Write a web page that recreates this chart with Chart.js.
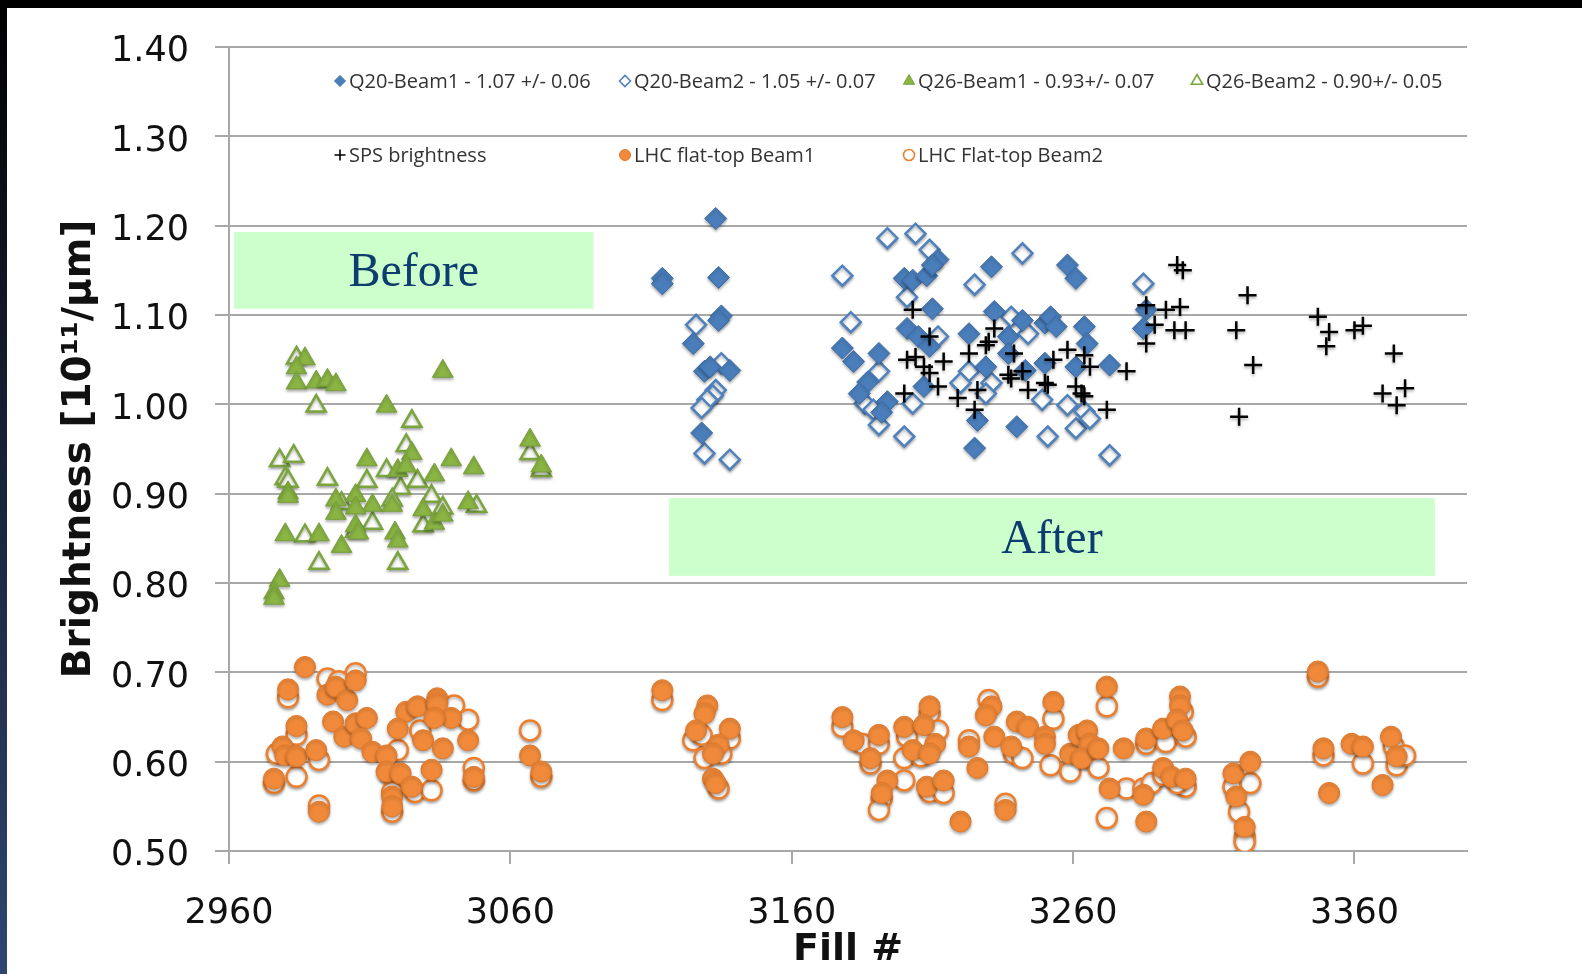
<!DOCTYPE html>
<html>
<head>
<meta charset="utf-8">
<script src="https://cdn.jsdelivr.net/npm/chart.js@4.4.1/dist/chart.umd.min.js"></script>
<style>
  body { margin: 0; background: #fff; overflow: hidden; }
  #wrap { position: absolute; left: 0; top: 0; width: 1582px; height: 974px; }
  #topBar { position: absolute; left: 0; top: 0; width: 1582px; height: 8px; background: #000; }
  #leftBar { position: absolute; left: 0; top: 0; width: 7px; height: 974px;
             background: linear-gradient(#000 0%, #121a2a 35%, #2f4670 100%); }
</style>
</head>
<body>
<div id="wrap"><canvas id="grafico"></canvas></div>
<div id="topBar"></div>
<div id="leftBar"></div>
<script>
// ejes
const xTicks = [2960, 3060, 3160, 3260, 3360];
const yTitle = 'Brightness [10\u00b9\u00b9/\u03bcm]';
const xTitle = 'Fill #';

// Q20 Beam1 (rombos llenos)
const q20b1Fill = [3133, 3114, 3114, 3134, 3135, 3134, 3125, 3129, 3131, 3138, 3128, 3178, 3182, 3191, 3187, 3184, 3194, 3192,
  3200, 3203, 3208, 3212, 3210, 3210, 3201, 3205, 3209, 3207, 3231, 3223, 3232, 3237, 3229, 3242, 3250, 3252, 3254, 3250,
  3258, 3261, 3264, 3265, 3261, 3273, 3226, 3240, 3225, 3243, 3237, 3286, 3285];
const q20b1Bright = [1.208, 1.141, 1.135, 1.142, 1.099, 1.094, 1.068, 1.037, 1.042, 1.038, 0.968, 1.063, 1.048, 1.057, 1.025, 1.012, 1.003, 0.991,
  1.141, 1.139, 1.144, 1.162, 1.156, 1.107, 1.085, 1.076, 1.065, 1.020, 1.154, 1.079, 1.104, 1.076, 1.042, 1.094, 1.091, 1.098, 1.087, 1.046,
  1.156, 1.141, 1.087, 1.068, 1.042, 1.044, 0.982, 0.975, 0.951, 1.038, 1.057, 1.106, 1.085];

// Q20 Beam2 (rombos vacios)
const q20b2Fill = [3126, 3135, 3133, 3132, 3130, 3128, 3129, 3138, 3178, 3181, 3194, 3204, 3209, 3201, 3191, 3186, 3189, 3191,
  3200, 3203, 3212, 3225, 3242, 3238, 3244, 3223, 3220, 3231, 3229, 3249, 3251, 3258, 3261, 3264, 3266, 3273, 3285];
const q20b2Bright = [1.089, 1.046, 1.016, 1.010, 1.005, 0.996, 0.945, 0.938, 1.144, 1.092, 1.186, 1.191, 1.173, 1.120, 1.037, 1.001, 0.994, 0.977,
  0.964, 1.001, 1.076, 1.134, 1.169, 1.098, 1.079, 1.037, 1.024, 1.024, 1.012, 1.005, 0.964, 0.999, 0.973, 0.992, 0.984, 0.943, 1.135];

// Q26 Beam1 (triangulos llenos)
const q26b1Fill = [2987, 2984, 2984, 2991, 2995, 2998, 3036, 3016, 3025, 2981, 2981, 3009, 3020, 3023, 3039, 3047, 3033, 3067, 3071,
  3005, 2998, 2998, 3011, 3018, 3005, 3029, 3033, 3036, 3045, 3005, 3006, 2980, 2992, 3000, 3019, 3020, 2978, 2976, 2976];
const q26b1Bright = [1.051, 1.041, 1.024, 1.025, 1.027, 1.022, 1.037, 0.998, 0.945, 0.901, 0.897, 0.938, 0.926, 0.931, 0.938, 0.929, 0.921, 0.960, 0.931,
  0.898, 0.893, 0.878, 0.887, 0.887, 0.884, 0.882, 0.867, 0.876, 0.890, 0.864, 0.856, 0.854, 0.854, 0.841, 0.856, 0.847, 0.803, 0.789, 0.783];

// Q26 Beam2 (triangulos vacios)
const q26b2Fill = [2984, 2991, 3025, 3023, 2978, 2983, 2980, 2981, 2995, 3016, 3027, 3009, 3021, 3032, 3036, 3029, 3048, 3067, 3071,
  3000, 3018, 3005, 3011, 2987, 2992, 3020];
const q26b2Bright = [1.052, 0.998, 0.981, 0.954, 0.937, 0.942, 0.917, 0.914, 0.916, 0.926, 0.914, 0.914, 0.906, 0.897, 0.884, 0.864, 0.886, 0.945, 0.926,
  0.889, 0.893, 0.858, 0.867, 0.853, 0.822, 0.822];

// SPS (cruces)
const spsFill = [3203, 3209, 3201, 3204, 3207, 3209, 3214, 3212, 3200, 3223, 3232, 3230, 3229, 3239, 3237, 3238, 3242, 3244, 3219, 3226, 3225,
  3250, 3251, 3253, 3258, 3264, 3266, 3261, 3263, 3264, 3272, 3279, 3297, 3299, 3286, 3293, 3298, 3289, 3296, 3300, 3286,
  3322, 3318, 3324, 3319, 3347, 3351, 3350, 3360, 3363, 3374, 3370, 3378, 3375];
const spsBright = [1.106, 1.076, 1.050, 1.053, 1.042, 1.035, 1.048, 1.020, 1.012, 1.057, 1.085, 1.070, 1.066, 1.057, 1.033, 1.029, 1.037, 1.016, 1.007, 1.016, 0.994,
  1.024, 1.022, 1.050, 1.061, 1.055, 1.042, 1.020, 1.012, 1.009, 0.994, 1.037, 1.156, 1.150, 1.111, 1.106, 1.109, 1.089, 1.083, 1.083, 1.068,
  1.122, 1.083, 1.044, 0.986, 1.098, 1.081, 1.065, 1.083, 1.088, 1.057, 1.012, 1.018, 0.999];

// LHC flat-top Beam1 (circulos llenos)
const lhcb1Fill = [2987, 2981, 2995, 2998, 3002, 3005, 2984, 2997, 3001, 3005, 3009, 3007, 2979, 2980, 2984, 2991, 2976, 2992, 3011, 3016,
  3023, 3027, 3020, 3034, 3034, 3039, 3033, 3045, 3029, 3036, 3016, 3021, 3018, 3018, 3025, 3032, 3047, 3067, 3071,
  3114, 3130, 3129, 3126, 3138, 3134, 3132, 3132, 3133, 3178, 3182, 3191, 3188, 3200, 3209, 3207, 3211, 3203, 3209, 3223, 3226,
  3194, 3192, 3208, 3214, 3220, 3231, 3229, 3232, 3238, 3240, 3244, 3236, 3250, 3250, 3253, 3259, 3262, 3265, 3266, 3263, 3269,
  3272, 3273, 3285, 3286, 3278, 3286, 3292, 3292, 3298, 3298, 3297, 3299, 3295, 3300, 3317, 3323, 3318, 3321,
  3347, 3349, 3351, 3359, 3363, 3370, 3373, 3375];
const lhcb1Bright = [0.706, 0.681, 0.675, 0.684, 0.669, 0.691, 0.640, 0.645, 0.628, 0.643, 0.649, 0.626, 0.617, 0.607, 0.606, 0.613, 0.581, 0.544, 0.611, 0.607,
  0.656, 0.662, 0.637, 0.671, 0.665, 0.649, 0.649, 0.624, 0.624, 0.615, 0.589, 0.587, 0.561, 0.550, 0.572, 0.591, 0.583, 0.607, 0.589,
  0.680, 0.663, 0.654, 0.635, 0.637, 0.619, 0.609, 0.581, 0.576, 0.650, 0.624, 0.630, 0.604, 0.639, 0.662, 0.641, 0.620, 0.613, 0.609, 0.617, 0.593,
  0.579, 0.565, 0.572, 0.579, 0.533, 0.662, 0.652, 0.628, 0.617, 0.645, 0.639, 0.546, 0.628, 0.620, 0.667, 0.609, 0.630, 0.635, 0.620, 0.604, 0.615,
  0.684, 0.570, 0.563, 0.533, 0.615, 0.626, 0.637, 0.593, 0.673, 0.663, 0.647, 0.635, 0.583, 0.581, 0.587, 0.600, 0.561, 0.527,
  0.701, 0.615, 0.565, 0.620, 0.617, 0.574, 0.628, 0.606];

// LHC flat-top Beam2 (circulos vacios)
const lhcb2Fill = [2981, 3005, 2995, 2999, 2984, 2977, 2992, 2976, 2984, 2992, 3020, 3028, 3040, 3045, 3017, 3018, 3018, 3026, 3032, 3047, 3047, 3067, 3071,
  3114, 3125, 3128, 3138, 3129, 3135, 3134, 3178, 3185, 3191, 3188, 3201, 3209, 3212, 3200, 3206, 3223, 3192, 3191, 3200, 3209, 3214,
  3230, 3239, 3242, 3236, 3252, 3253, 3259, 3265, 3269, 3272, 3279, 3285, 3288, 3272, 3286, 3293, 3292, 3299, 3300, 3300, 3297,
  3317, 3323, 3319, 3321, 3321, 3347, 3349, 3363, 3374, 3375, 3378];
const lhcb2Bright = [0.672, 0.699, 0.693, 0.690, 0.630, 0.609, 0.602, 0.576, 0.583, 0.551, 0.613, 0.635, 0.663, 0.647, 0.587, 0.566, 0.544, 0.566, 0.568, 0.593, 0.579, 0.635, 0.583,
  0.669, 0.624, 0.630, 0.626, 0.604, 0.609, 0.570, 0.639, 0.620, 0.620, 0.598, 0.628, 0.654, 0.635, 0.604, 0.606, 0.624, 0.559, 0.546, 0.579, 0.566, 0.565,
  0.669, 0.609, 0.604, 0.553, 0.596, 0.648, 0.589, 0.604, 0.593, 0.662, 0.570, 0.570, 0.576, 0.537, 0.620, 0.622, 0.585, 0.656, 0.628, 0.572, 0.576,
  0.572, 0.576, 0.544, 0.516, 0.510, 0.695, 0.607, 0.598, 0.617, 0.596, 0.607];

// cuadros verdes "Before" / "After" (en unidades de los ejes)
const notes = [
  { text: 'Before', x0: 2961.8, x1: 3089.5, y0: 1.107, y1: 1.193 },
  { text: 'After', x0: 3116.4, x1: 3388.6, y0: 0.808, y1: 0.895 }
];

const puntos = (xs, ys) => xs.map((x, i) => ({ x: x, y: ys[i] }));

const datasets = [
  { label: 'Q20-Beam1 - 1.07 +/- 0.06', data: puntos(q20b1Fill, q20b1Bright), pointStyle: 'rectRot', pointRadius: 11,
    backgroundColor: '#4a7ebb', borderColor: '#3b6aa3', borderWidth: 1 },
  { label: 'Q20-Beam2 - 1.05 +/- 0.07', data: puntos(q20b2Fill, q20b2Bright), pointStyle: 'rectRot', pointRadius: 10,
    backgroundColor: '#ffffff', borderColor: '#4f81bd', borderWidth: 2.5 },
  { label: 'Q26-Beam1 - 0.93+/- 0.07', data: puntos(q26b1Fill, q26b1Bright), pointStyle: 'triangle', pointRadius: 12,
    backgroundColor: '#8ab544', borderColor: '#77a03a', borderWidth: 1 },
  { label: 'Q26-Beam2 - 0.90+/- 0.05', data: puntos(q26b2Fill, q26b2Bright), pointStyle: 'triangle', pointRadius: 11,
    backgroundColor: '#ffffff', borderColor: '#7aa53c', borderWidth: 2.5 },
  { label: 'SPS brightness', data: puntos(spsFill, spsBright), pointStyle: 'cross', pointRadius: 9,
    backgroundColor: '#000000', borderColor: '#000000', borderWidth: 2.5, order: -1 },
  { label: 'LHC flat-top Beam1', data: puntos(lhcb1Fill, lhcb1Bright), pointStyle: 'circle', pointRadius: 10.5,
    backgroundColor: '#f08a3a', borderColor: '#e0782a', borderWidth: 1 },
  { label: 'LHC Flat-top Beam2', data: puntos(lhcb2Fill, lhcb2Bright), pointStyle: 'circle', pointRadius: 10,
    backgroundColor: '#ffffff', borderColor: '#ee7f2d', borderWidth: 2.5 }
];

// dibuja un marcador chico para la leyenda
const marcador = (ctx, ds, x, y, r) => {
  ctx.save();
  ctx.beginPath();
  if (ds.pointStyle === 'rectRot') {
    ctx.moveTo(x - r, y); ctx.lineTo(x, y - r); ctx.lineTo(x + r, y); ctx.lineTo(x, y + r); ctx.closePath();
  } else if (ds.pointStyle === 'triangle') {
    ctx.moveTo(x, y - r); ctx.lineTo(x + r * 0.866, y + r * 0.5); ctx.lineTo(x - r * 0.866, y + r * 0.5); ctx.closePath();
  } else if (ds.pointStyle === 'circle') {
    ctx.arc(x, y, r, 0, Math.PI * 2);
  } else {
    ctx.moveTo(x - r, y); ctx.lineTo(x + r, y); ctx.moveTo(x, y - r); ctx.lineTo(x, y + r);
  }
  if (ds.pointStyle !== 'cross') { ctx.fillStyle = ds.backgroundColor; ctx.fill(); }
  ctx.strokeStyle = ds.borderColor;
  ctx.lineWidth = ds.borderWidth > 2 ? 1.6 : 1;
  ctx.stroke();
  ctx.restore();
};

const extras = {
  id: 'extras',
  beforeDatasetsDraw(chart) {
    const { ctx, scales: { x, y } } = chart;
    ctx.save();
    notes.forEach(n => {
      const l = x.getPixelForValue(n.x0), r = x.getPixelForValue(n.x1);
      const t = y.getPixelForValue(n.y1), b = y.getPixelForValue(n.y0);
      ctx.fillStyle = '#ccffcc';
      ctx.fillRect(l, t, r - l, b - t);
      ctx.fillStyle = '#0d3c6e';
      ctx.font = '48px "Liberation Serif", serif';
      ctx.textAlign = 'center';
      ctx.textBaseline = 'middle';
      ctx.fillText(n.text, (l + r) / 2, (t + b) / 2 + 3);
    });
    ctx.restore();
    // sombra de los marcadores
    ctx.save();
    ctx.shadowColor = 'rgba(0,0,0,0.3)';
    ctx.shadowBlur = 3;
    ctx.shadowOffsetY = 2;
  },
  afterDatasetsDraw(chart) {
    chart.ctx.restore();
  },
  afterDraw(chart) {
    const { ctx, chartArea } = chart;
    const cols = [111, 396, 680, 968];
    const rows = [35, 109];
    ctx.save();
    ctx.font = '20px "Open Sans", sans-serif';
    ctx.textBaseline = 'middle';
    ctx.textAlign = 'left';
    chart.data.datasets.forEach((ds, i) => {
      const mx = chartArea.left + cols[i % 4];
      const my = chartArea.top + rows[Math.floor(i / 4)];
      marcador(ctx, ds, mx, my - 1, ds.pointStyle === 'triangle' ? 6.5 : 5.5);
      ctx.fillStyle = '#333';
      ctx.fillText(ds.label, mx + 9, my);
    });
    ctx.restore();
  }
};

const gris = '#a8a8a8';

new Chart(document.getElementById('grafico'), {
  type: 'scatter',
  data: { datasets: datasets },
  options: {
    responsive: true,
    maintainAspectRatio: false,
    animation: false,
    events: [],
    layout: { padding: { left: 0, right: 115, top: 47, bottom: 0 } },
    plugins: { legend: { display: false }, tooltip: { enabled: false } },
    scales: {
      x: {
        type: 'linear',
        min: 2960,
        max: 3400,
        afterBuildTicks: s => { s.ticks = xTicks.map(v => ({ value: v })); },
        afterFit: s => { s.height = 123; },
        ticks: { font: { family: 'DejaVu Sans', size: 35 }, color: '#111', padding: 29, callback: v => String(v) },
        grid: { drawOnChartArea: false, color: gris, lineWidth: 2, tickLength: 13 },
        border: { color: gris, width: 2 },
        title: { display: true, text: xTitle, color: '#111', font: { family: 'DejaVu Sans', size: 38, weight: 'bold' }, padding: { bottom: 1 } }
      },
      y: {
        min: 0.5,
        max: 1.4,
        afterFit: s => { s.width = 229; },
        // la linea vacia baja un poco la etiqueta respecto de la grilla
        ticks: { stepSize: 0.1, font: { family: 'DejaVu Sans', size: 35, lineHeight: 0.3 }, color: '#111', padding: 26,
                 callback: v => ['', v.toFixed(2)] },
        grid: { color: gris, lineWidth: 2, tickLength: 14 },
        border: { color: gris, width: 2 },
        title: { display: true, text: yTitle, color: '#111', font: { family: 'DejaVu Sans', size: 39, weight: 'bold' }, padding: { top: 56 } }
      }
    }
  },
  plugins: [extras]
});
</script>
</body>
</html>
